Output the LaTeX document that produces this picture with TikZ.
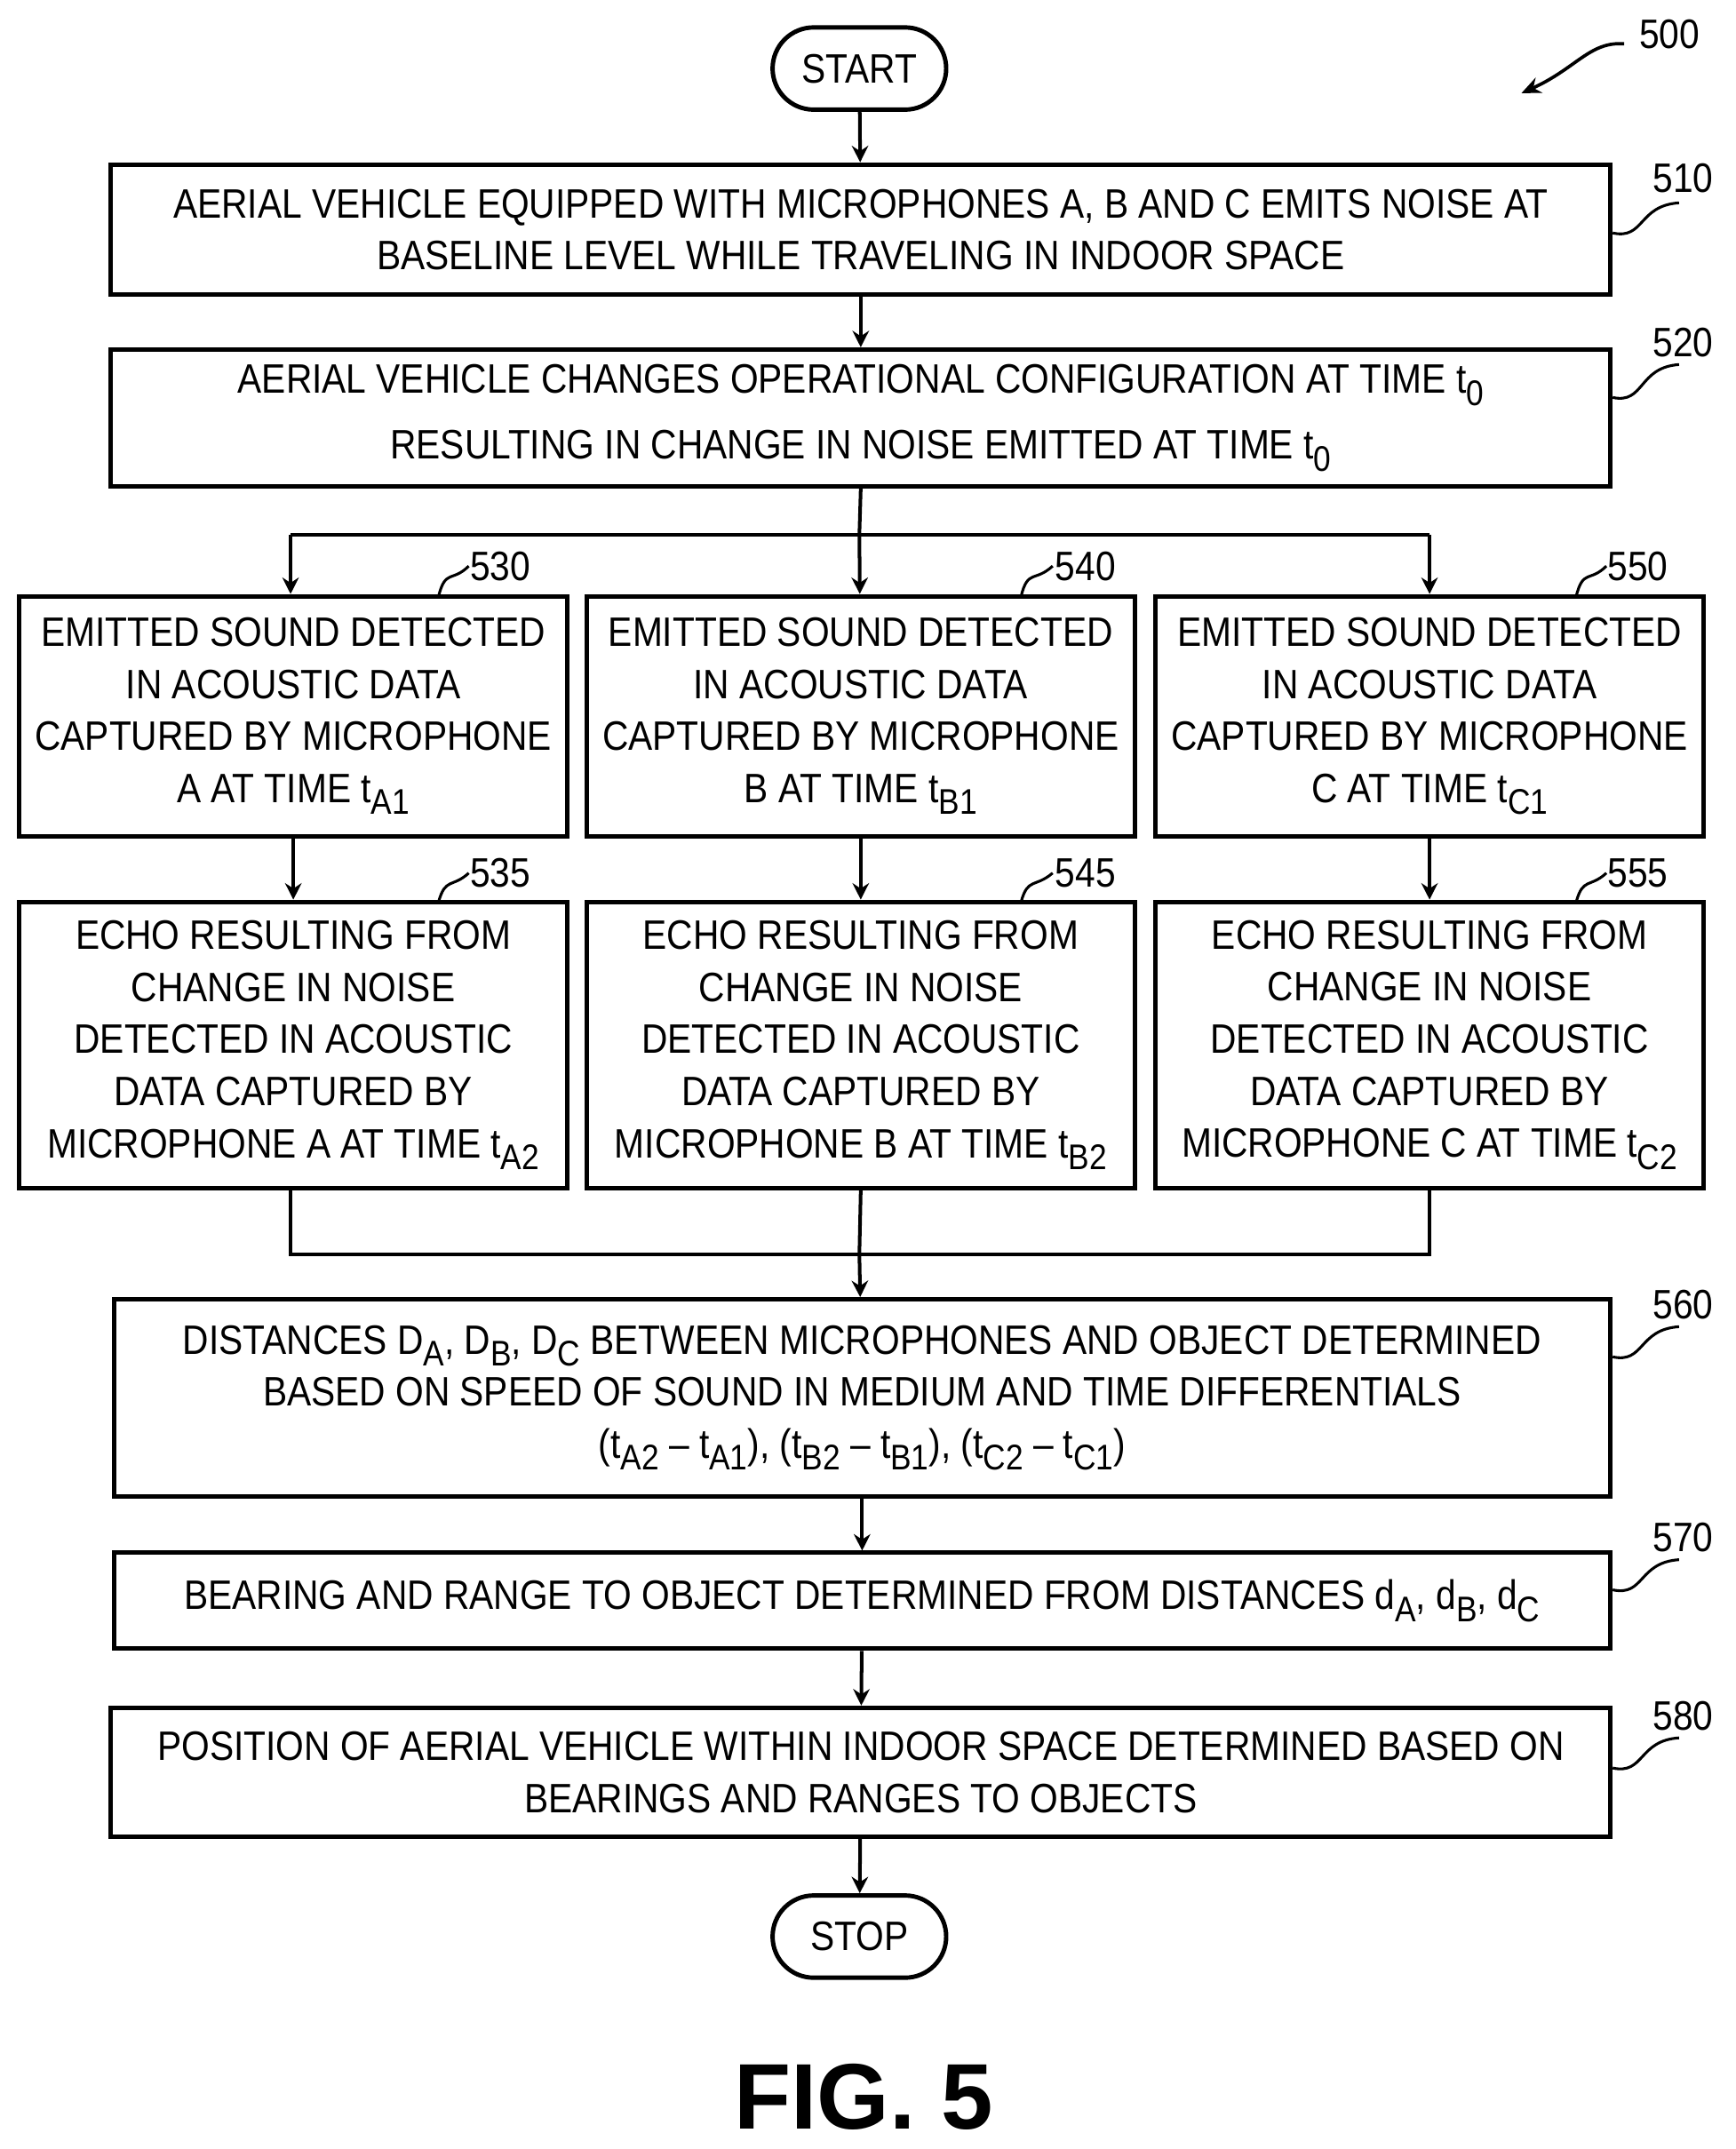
\documentclass[tikz,border=0pt]{standalone}
\usepackage{fontspec}
\setmainfont{Liberation Sans}[FakeStretch=0.88]
\newfontfamily\figfont{Liberation Sans}
\usetikzlibrary{arrows.meta,shapes.misc}
\newcommand{\sbs}[1]{\raisebox{-0.55ex}{\fontsize{13pt}{13pt}\selectfont #1}}
\begin{document}
\begin{tikzpicture}[x=0.5pt,y=-0.5pt,
  box/.style={draw,line width=1.6pt,inner sep=0pt,align=center,font=\fontsize{15pt}{19pt}\selectfont},
  term/.style={draw,line width=1.6pt,rounded rectangle,minimum width=70pt,minimum height=30pt,font=\fontsize{15pt}{18pt}\selectfont},
  arr/.style={line width=1.3pt,-{Stealth[length=6pt,width=6pt]}},
  ln/.style={line width=1.3pt},
  lab/.style={font=\fontsize{15pt}{18pt}\selectfont},
  sq/.style={line width=1pt}]
\useasboundingbox (0,0) rectangle (1266,1568);
\newcommand{\bx}[6]{\node[box,minimum width={(#3-#2)*0.5pt},minimum height={(#5-#4)*0.5pt}] (#1) at ({(#2+#3)/2},{(#4+#5)/2}) {#6};}
\node[term] (start) at (627,50) {START};
\node[term] (stop) at (627,1413) {STOP};
\bx{b510}{81}{1175}{120}{215}{AERIAL VEHICLE EQUIPPED WITH MICROPHONES A, B AND C EMITS NOISE AT\\BASELINE LEVEL WHILE TRAVELING IN INDOOR SPACE}
\bx{b520}{81}{1175}{255}{355}{AERIAL VEHICLE CHANGES OPERATIONAL CONFIGURATION AT TIME t\sbs{0}\\[5pt]RESULTING IN CHANGE IN NOISE EMITTED AT TIME t\sbs{0}}
\bx{b530}{14}{414}{435}{610}{EMITTED SOUND DETECTED\\IN ACOUSTIC DATA\\CAPTURED BY MICROPHONE\\A AT TIME t\sbs{A1}}
\bx{b540}{428}{828}{435}{610}{EMITTED SOUND DETECTED\\IN ACOUSTIC DATA\\CAPTURED BY MICROPHONE\\B AT TIME t\sbs{B1}}
\bx{b550}{843}{1243}{435}{610}{EMITTED SOUND DETECTED\\IN ACOUSTIC DATA\\CAPTURED BY MICROPHONE\\C AT TIME t\sbs{C1}}
\bx{b535}{14}{414}{658}{867}{ECHO RESULTING FROM\\CHANGE IN NOISE\\DETECTED IN ACOUSTIC\\DATA CAPTURED BY\\MICROPHONE A AT TIME t\sbs{A2}}
\bx{b545}{428}{828}{658}{867}{ECHO RESULTING FROM\\CHANGE IN NOISE\\DETECTED IN ACOUSTIC\\DATA CAPTURED BY\\MICROPHONE B AT TIME t\sbs{B2}}
\bx{b555}{843}{1243}{658}{867}{ECHO RESULTING FROM\\CHANGE IN NOISE\\DETECTED IN ACOUSTIC\\DATA CAPTURED BY\\MICROPHONE C AT TIME t\sbs{C2}}
\bx{b560}{83}{1175}{948}{1092}{DISTANCES D\sbs{A}, D\sbs{B}, D\sbs{C} BETWEEN MICROPHONES AND OBJECT DETERMINED\\BASED ON SPEED OF SOUND IN MEDIUM AND TIME DIFFERENTIALS\\(t\sbs{A2} -- t\sbs{A1}), (t\sbs{B2} -- t\sbs{B1}), (t\sbs{C2} -- t\sbs{C1})}
\bx{b570}{83}{1175}{1133}{1203}{BEARING AND RANGE TO OBJECT DETERMINED FROM DISTANCES d\sbs{A}, d\sbs{B}, d\sbs{C}}
\bx{b580}{81}{1175}{1246}{1340}{POSITION OF AERIAL VEHICLE WITHIN INDOOR SPACE DETERMINED BASED ON\\BEARINGS AND RANGES TO OBJECTS}
% connectors
\draw[arr] (start) -- (b510);
\draw[arr] (b510) -- (b520);
\coordinate (s0) at (627,390);
\coordinate (sA) at (212,390);
\coordinate (sC) at (1043,390);
\draw[ln] (b520.south) -- (s0);
\draw[ln] (sA) -- (sC);
\draw[arr] (sA) -- (sA |- b530.north);
\draw[arr] (s0) -- (b540);
\draw[arr] (sC) -- (sC |- b550.north);
\draw[arr] (b530) -- (b535);
\draw[arr] (b540) -- (b545);
\draw[arr] (b550) -- (b555);
\coordinate (mA) at (212,915);
\coordinate (mC) at (1043,915);
\coordinate (mB) at (627,915);
\draw[ln] (b535.south -| mA) -- (mA) -- (mC) -- (b555.south -| mC);
\draw[ln] (b545.south) -- (mB);
\draw[arr] (mB) -- (b560);
\draw[arr] (b560) -- (b570);
\draw[arr] (b570) -- (b580);
\draw[arr] (b580) -- (stop);
% labels
\node[lab] (l500) at (1218,25) {500};
\draw[line width=1.2pt,-{Stealth[length=7pt,width=6pt]}] (1185,32) .. controls (1160,30) and (1150,50) .. (1110,68);
\node[lab] (l510) at (1228,130) {510};
\draw[sq] (b510.east |- 0,170) .. controls (1200,175) and (1195,150) .. (1225,148);
\node[lab] (l520) at (1228,250) {520};
\draw[sq] (b520.east |- 0,290) .. controls (1200,295) and (1195,268) .. (1225,266);
\node[lab] (l530) at (365,413) {530};
\draw[sq] (320,435) .. controls (325,415) and (330,425) .. (342,413);
\node[lab] (l540) at (792,413) {540};
\draw[sq] (745,435) .. controls (750,415) and (755,425) .. (768,413);
\node[lab] (l550) at (1195,413) {550};
\draw[sq] (1150,435) .. controls (1155,415) and (1160,425) .. (1172,413);
\node[lab] (l535) at (365,637) {535};
\draw[sq] (320,658) .. controls (325,640) and (330,648) .. (342,637);
\node[lab] (l545) at (792,637) {545};
\draw[sq] (745,658) .. controls (750,640) and (755,648) .. (768,637);
\node[lab] (l555) at (1195,637) {555};
\draw[sq] (1150,658) .. controls (1155,640) and (1160,648) .. (1172,637);
\node[lab] (l560) at (1228,952) {560};
\draw[sq] (b560.east |- 0,990) .. controls (1200,995) and (1195,970) .. (1225,968);
\node[lab] (l570) at (1228,1122) {570};
\draw[sq] (b570.east |- 0,1160) .. controls (1200,1165) and (1195,1140) .. (1225,1138);
\node[lab] (l580) at (1228,1252) {580};
\draw[sq] (b580.east |- 0,1290) .. controls (1200,1295) and (1195,1270) .. (1225,1268);
\node[font=\figfont\fontsize{34pt}{40pt}\selectfont\bfseries] (fig) at (630,1530) {FIG. 5};
\end{tikzpicture}
\end{document}
